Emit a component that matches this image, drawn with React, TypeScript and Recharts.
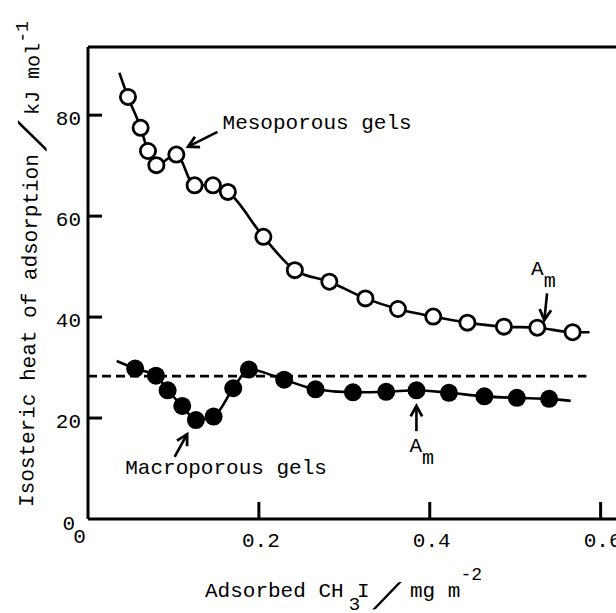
import React from 'react';
import { ComposedChart, Line, Scatter, XAxis, YAxis, ReferenceLine, ReferenceDot, Label } from 'recharts';

const FONT = '"Liberation Mono", "Courier New", monospace';
const SLASH_FONT = 'Lato, "Open Sans", sans-serif';

// Mesoporous gels (open circles)
const mesoX = [0.0468, 0.0616, 0.0702, 0.0800, 0.1034, 0.1248, 0.1462, 0.1637, 0.2053, 0.2421, 0.2825, 0.3247, 0.3628, 0.4041, 0.4441, 0.4868, 0.5259, 0.5672];
const mesoY = [83.6, 77.5, 72.9, 70.1, 72.2, 66.1, 66.1, 64.8, 55.9, 49.3, 47.0, 43.7, 41.6, 40.1, 38.9, 38.1, 37.9, 37.0];
// Macroporous gels (filled circles)
const macroX = [0.0552, 0.0795, 0.0932, 0.1103, 0.1263, 0.1470, 0.1700, 0.1883, 0.2296, 0.2663, 0.3101, 0.3490, 0.3845, 0.4225, 0.4639, 0.5020, 0.5397];
const macroY = [29.8, 28.4, 25.5, 22.4, 19.6, 20.3, 25.9, 29.6, 27.6, 25.7, 25.1, 25.2, 25.5, 25.0, 24.3, 24.0, 23.8];
// ends of the drawn smooth curves
const mesoCurveStart = { x: 0.0367, y: 88.4 };
const mesoCurveEnd = { x: 0.587, y: 37.0 };
const macroCurveStart = { x: 0.0336, y: 31.3 };
const macroCurveEnd = { x: 0.565, y: 23.4 };

const dashLevel = 28.3;
const dashEnd = 0.5833;

const xTicks = [0, 0.2, 0.4, 0.6];
const xTickLabels = ['0', '0.2', '0.4', '0.6'];
const yTicks = [0, 20, 40, 60, 80];
const xMax = 0.618;
const yMax = 93.5;

const mesoPts = mesoX.map((x, i) => ({ x, y: mesoY[i] }));
const macroPts = macroX.map((x, i) => ({ x, y: macroY[i] }));
const mesoCurve = [mesoCurveStart, ...mesoPts, mesoCurveEnd];
const macroCurve = [macroCurveStart, ...macroPts, macroCurveEnd];

// annotations (data coordinates)
const arrows = [
  { from: { x: 0.1516, y: 76.7 }, to: { x: 0.1172, y: 73.75 } },
  { from: { x: 0.1014, y: 12.3 }, to: { x: 0.1160, y: 16.8 } },
  { from: { x: 0.5373, y: 44.7 }, to: { x: 0.5341, y: 39.4 } },
  { from: { x: 0.3844, y: 17.4 }, to: { x: 0.3844, y: 22.4 } },
];
const labels = [
  { x: 0.1575, y: 77.3, text: 'Mesoporous gels' },
  { x: 0.0436, y: 8.9, text: 'Macroporous gels' },
];
const amLabels = [
  { x: 0.5186, y: 48.3 },
  { x: 0.3763, y: 13.3 },
];

const YTick = (props: any) => {
  const { x, y, payload } = props;
  const v = payload.value;
  return (
    <g>
      {v !== 0 && <line x1={x} x2={x + 14} y1={y} y2={y} stroke="#000" strokeWidth={3} />}
      <text x={v === 0 ? x - 13 : x - 7} y={v === 0 ? y + 11 : y + 10} textAnchor="end" fontFamily={FONT} fontSize={21} fill="#000">
        {v}
      </text>
    </g>
  );
};

const XTick = (props: any) => {
  const { x, y, payload } = props;
  const v = payload.value;
  const idx = xTicks.indexOf(v);
  return (
    <g>
      {v !== 0 && <line x1={x} x2={x} y1={y} y2={y - 17} stroke="#000" strokeWidth={3} />}
      <text x={v === 0 ? x - 8.5 : x + 2} y={v === 0 ? y + 24 : y + 28} textAnchor="middle" fontFamily={FONT} fontSize={21} fill="#000">
        {xTickLabels[idx]}
      </text>
    </g>
  );
};

const YTitle = (props: any) => {
  const vb = props.viewBox || { x: 0, y: 47, width: 88, height: 472 };
  const ox = vb.x + 33;
  const oy = vb.y + vb.height - 12;
  return (
    <g transform={`translate(${ox},${oy}) rotate(-89.2)`} fill="#000">
      <text x={0} y={0} fontSize={21} fontFamily={FONT}>Isosteric heat of adsorption</text>
      <text transform="translate(371,7) scale(2.3,1)" fontSize={38} fontFamily={SLASH_FONT} fontWeight={300} textAnchor="middle">/</text>
      <text x={392} y={0} fontSize={20} fontFamily={FONT}>
        kJ mol<tspan dy={-12} fontSize={18}>-1</tspan>
      </text>
    </g>
  );
};

const XTitle = (props: any) => {
  const vb = props.viewBox || { x: 88, y: 519, width: 528, height: 94 };
  const bx = vb.x;
  const by = vb.y;
  return (
    <g fill="#000">
      <text x={bx + 117} y={by + 78} fontSize={21} fontFamily={FONT}>
        Adsorbed CH<tspan dx={5} dy={13} fontSize={19}>3</tspan>
        <tspan dx={-3} dy={-13} fontSize={21}>I</tspan>
      </text>
      <text transform={`translate(${bx + 299},${by + 89}) scale(2.3,1)`} fontSize={36} fontFamily={SLASH_FONT} fontWeight={300} textAnchor="middle">/</text>
      <text x={bx + 322} y={by + 78} fontSize={21} fontFamily={FONT}>
        mg m<tspan dy={-17} fontSize={18}>-2</tspan>
      </text>
    </g>
  );
};

const OpenCircle = (p: any) => <circle cx={p.cx} cy={p.cy} r={7.6} fill="#fff" stroke="#000" strokeWidth={2.8} />;
const FilledCircle = (p: any) => <circle cx={p.cx} cy={p.cy} r={9} fill="#000" stroke="none" />;

const ArrowShape = (p: any) => {
  const { x1, y1, x2, y2 } = p;
  const ang = Math.atan2(y2 - y1, x2 - x1);
  const L = 12;
  const a = 0.5;
  const h1x = x2 - L * Math.cos(ang - a);
  const h1y = y2 - L * Math.sin(ang - a);
  const h2x = x2 - L * Math.cos(ang + a);
  const h2y = y2 - L * Math.sin(ang + a);
  return (
    <g>
      <line x1={x1} y1={y1} x2={x2} y2={y2} stroke="#000" strokeWidth={2.6} />
      <polyline points={`${h1x},${h1y} ${x2},${y2} ${h2x},${h2y}`} fill="none" stroke="#000" strokeWidth={2.8} strokeLinejoin="miter" />
    </g>
  );
};

const makeText = (text: string) => (p: any) => (
  <text x={p.cx} y={p.cy} fontFamily={FONT} fontSize={21} fill="#000">{text}</text>
);

const AmShape = (p: any) => (
  <text x={p.cx} y={p.cy} fontFamily={FONT} fontSize={21} fill="#000">
    A<tspan dy={12} fontSize={20}>m</tspan>
  </text>
);

export default function App() {
  return (
    <div style={{ position: 'fixed', left: 0, top: 0, width: 616, height: 613, background: '#fff' }}>
      <ComposedChart width={616} height={613} margin={{ top: 47, right: 0, left: 0, bottom: 0 }}>
        <XAxis
          dataKey="x"
          type="number"
          domain={[0, xMax]}
          ticks={xTicks}
          interval={0}
          allowDataOverflow
          height={94}
          tickLine={false}
          tickSize={0}
          tickMargin={0}
          tick={XTick}
          axisLine={{ stroke: '#000', strokeWidth: 3 }}
        >
          <Label content={XTitle} />
        </XAxis>
        <YAxis
          dataKey="y"
          type="number"
          domain={[0, yMax]}
          ticks={yTicks}
          interval={0}
          allowDataOverflow
          width={88}
          tickLine={false}
          tickSize={0}
          tickMargin={0}
          tick={YTick}
          axisLine={{ stroke: '#000', strokeWidth: 3 }}
        >
          <Label content={YTitle} />
        </YAxis>
        <ReferenceLine y={yMax} stroke="#000" strokeWidth={3} />
        <ReferenceLine
          segment={[{ x: 0, y: dashLevel }, { x: dashEnd, y: dashLevel }]}
          stroke="#000"
          strokeWidth={2.6}
          strokeDasharray="9 5"
        />
        <Line data={mesoCurve} dataKey="y" type="monotone" stroke="#000" strokeWidth={2.6} dot={false} activeDot={false} isAnimationActive={false} />
        <Line data={macroCurve} dataKey="y" type="monotone" stroke="#000" strokeWidth={2.6} dot={false} activeDot={false} isAnimationActive={false} />
        <Scatter data={mesoPts} dataKey="y" shape={OpenCircle} isAnimationActive={false} />
        <Scatter data={macroPts} dataKey="y" shape={FilledCircle} isAnimationActive={false} />
        {arrows.map((a, i) => (
          <ReferenceLine key={`ar${i}`} segment={[a.from, a.to]} shape={ArrowShape} />
        ))}
        {labels.map((l, i) => (
          <ReferenceDot key={`lb${i}`} x={l.x} y={l.y} r={0} shape={makeText(l.text)} />
        ))}
        {amLabels.map((l, i) => (
          <ReferenceDot key={`am${i}`} x={l.x} y={l.y} r={0} shape={AmShape} />
        ))}
      </ComposedChart>
    </div>
  );
}
